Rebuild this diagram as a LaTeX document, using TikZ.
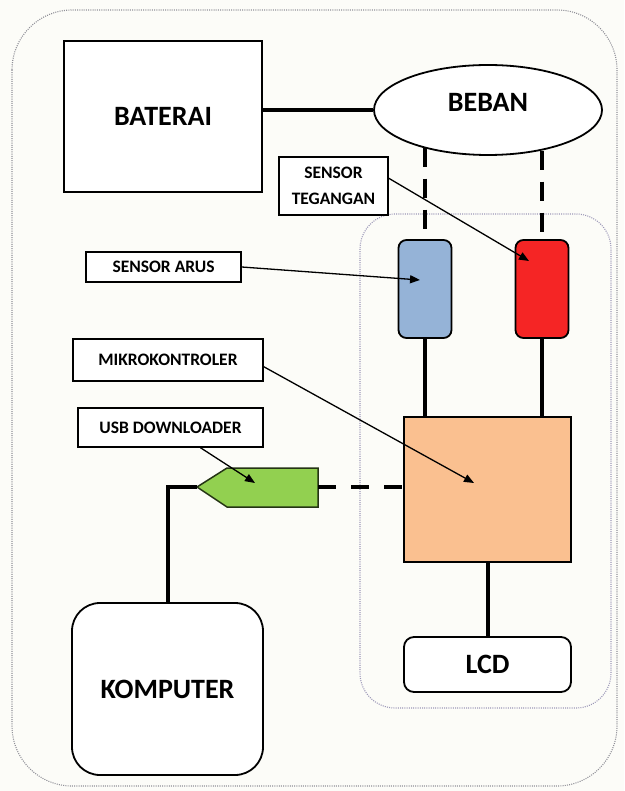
\documentclass[tikz,border=0pt]{standalone}
\usepackage{fontspec}
\setmainfont{Carlito}
\usetikzlibrary{shapes.geometric,arrows.meta,calc}
\definecolor{bgcol}{HTML}{FCFCF8}
\definecolor{sblue}{HTML}{95B3D7}
\definecolor{sred}{HTML}{F52525}
\definecolor{peach}{HTML}{FAC090}
\definecolor{usbgreen}{HTML}{92D050}
\definecolor{outerdot}{HTML}{909098}
\definecolor{innerdot}{HTML}{9C98B8}
\pgfdeclarelayer{bg}
\pgfsetlayers{bg,main}
\begin{document}
\begin{tikzpicture}[x=1pt,y=-1pt,
  big/.style={font=\fontsize{28}{32}\selectfont\bfseries},
  small/.style={font=\fontsize{17.5}{26}\selectfont\bfseries},
  box/.style={draw=black,line width=1.8pt,fill=white,inner sep=0pt,align=center},
  lbl/.style={draw=black,line width=1.5pt,fill=white,inner sep=0pt,small,align=center},
  wire/.style={line width=4pt,black},
  dwire/.style={line width=4pt,black,dash pattern=on 19pt off 12pt},
  hwire/.style={line width=4pt,black,dash pattern=on 18pt off 15pt},
  ptr/.style={line width=1.3pt,-{Triangle[length=10pt,width=8pt]}},
  dotb/.style={line width=1.1pt,dash pattern=on 1pt off 1.2pt}
]
\useasboundingbox (0,0) rectangle (624,791);
\begin{pgfonlayer}{bg}
  \fill[bgcol] (0,0) rectangle (624,791);
  \draw[dotb,draw=outerdot,rounded corners=60pt] (12,10) rectangle (617,786);
  \draw[dotb,draw=innerdot,rounded corners=35pt] (360,214) rectangle (611,708);
\end{pgfonlayer}

% main blocks
\node[box,big,minimum width=198pt,minimum height=151pt] (bat) at (163,116.5) {\raisebox{-8pt}{BATERAI}};
\node[box,ellipse,minimum width=228pt,minimum height=90pt] (beban) at (488,110) {};
\node[big] (bebant) at (488,102) {BEBAN};

\node[box,fill=sblue,rounded corners=8pt,minimum width=53pt,minimum height=98pt] (blue) at (425,289) {};
\node[box,fill=sred,rounded corners=8pt,minimum width=53pt,minimum height=98pt] (red) at (542,289) {};
\node[box,fill=peach,minimum width=167pt,minimum height=145pt] (mk) at (487.5,489.5) {};
\node[box,big,rounded corners=10pt,minimum width=167pt,minimum height=55pt] (lcd) at (487.5,664.5) {LCD};
\node[box,big,rounded corners=28pt,minimum width=191pt,minimum height=172pt] (komp) at (167.5,689) {KOMPUTER};

% label boxes
\node[lbl,minimum width=109pt,minimum height=58pt] (stg) at (333.5,186) {SENSOR\\TEGANGAN};
\node[lbl,minimum width=155pt,minimum height=30pt] (sa) at (163.5,267) {SENSOR ARUS};
\node[lbl,minimum width=190pt,minimum height=42pt] (mkl) at (168,360) {MIKROKONTROLER};
\node[lbl,minimum width=185pt,minimum height=39pt] (usbl) at (170.5,427.5) {USB DOWNLOADER};

% USB downloader plug
\coordinate (usbtip) at (197,487);
\coordinate (usbend) at (318,487);
\draw[fill=usbgreen,draw=black!75!usbgreen,line width=1.5pt]
  (usbtip) -- (227,468) -- (318,468) -- (318,507) -- (227,507) -- cycle;

% connectors
\draw[wire] (bat.east |- beban.west) -- (beban.west);
\draw[dwire] (beban.210.76 -| blue.north) -- (blue.north);
\draw[dwire] (beban.323.75 -| red.north) -- (red.north);
\draw[wire] (blue.south) -- (blue.south |- mk.north);
\draw[wire] (red.south) -- (red.south |- mk.north);
\draw[wire] (mk.south) -- (lcd.north);
\draw[hwire] (usbend) -- (mk.west |- usbend);
\draw[wire] (usbtip) -- (komp.north |- usbtip) -- (komp.north);

% pointer arrows
\coordinate (pblue) at (420,280);
\coordinate (pred) at (529,261);
\coordinate (pmk) at (474,483);
\coordinate (pusb) at (255,483);
\draw[ptr] (sa.east) -- (pblue);
\draw[ptr] (stg.8) -- (pred);
\draw[ptr] (mkl.-4) -- (pmk);
\draw[ptr] (usbl.-34.4) -- (pusb);
\end{tikzpicture}
\end{document}
